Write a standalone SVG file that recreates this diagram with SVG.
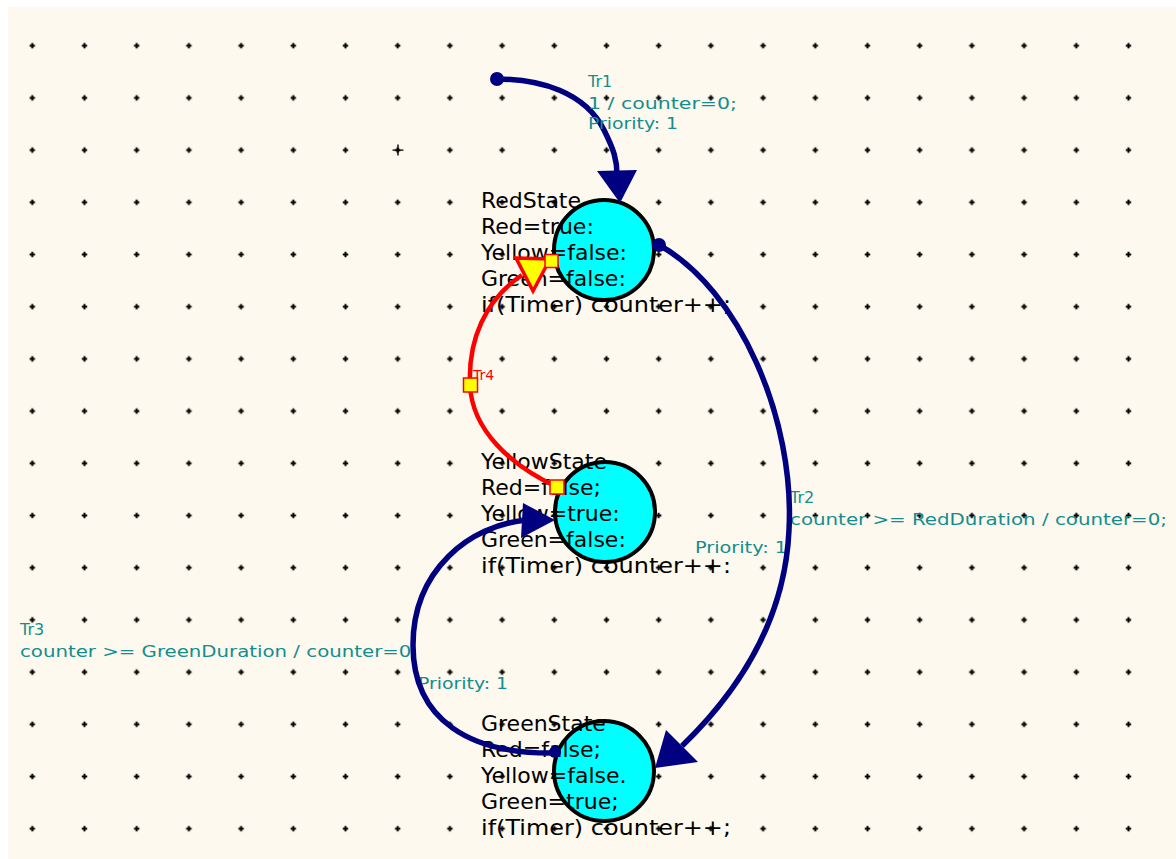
<svg xmlns="http://www.w3.org/2000/svg" width="1176" height="859" viewBox="0 0 1176 859">
<style>
.st{font-family:"DejaVu Sans",sans-serif;font-size:22px;fill:#000}
.lb{font-family:"DejaVu Sans",sans-serif;font-size:16px;fill:#138d8d}
.node{fill:#00ffff;stroke:#000;stroke-width:4}
.nv{fill:none;stroke:#000080;stroke-width:5.5}
.rd{fill:none;stroke:#ff0000;stroke-width:4.5}
.ah{fill:#000080;stroke:none}
.sq{fill:#ffff00;stroke:#ff0000;stroke-width:1.5}
</style>
<defs>
<pattern id="grid" x="6.2" y="19.6" width="52.2" height="52.2" patternUnits="userSpaceOnUse">
<path d="M23.4,26.1h5.4M26.1,23.4v5.4" stroke="#000" stroke-width="2"/>
</pattern>
</defs>
<rect x="0" y="0" width="1176" height="859" fill="#ffffff"/>
<rect x="8" y="7" width="1168" height="852" fill="#fdf9ee"/>
<rect x="8" y="7" width="1168" height="852" fill="url(#grid)"/>
<path d="M392.5,150.1h11M398,144.6v11" stroke="#000" stroke-width="1.4"/>

<g id="RedState">
<circle class="node" cx="604" cy="250" r="50"/>
<text class="st" x="481" y="208">RedState</text>
<text class="st" x="481" y="234">Red=true:</text>
<text class="st" x="481" y="260">Yellow=false:</text>
<text class="st" x="481" y="286">Green=false:</text>
<text class="st" x="481" y="312" textLength="250" lengthAdjust="spacingAndGlyphs">if(Timer) counter++;</text>
</g>
<g id="YellowState">
<circle class="node" cx="605" cy="512" r="50"/>
<text class="st" x="481" y="469">YellowState</text>
<text class="st" x="481" y="495">Red=false;</text>
<text class="st" x="481" y="521">Yellow=true:</text>
<text class="st" x="481" y="547">Green=false:</text>
<text class="st" x="481" y="573" textLength="250" lengthAdjust="spacingAndGlyphs">if(Timer) counter++:</text>
</g>
<g id="GreenState">
<circle class="node" cx="604" cy="771" r="50"/>
<text class="st" x="481" y="731">GreenState</text>
<text class="st" x="481" y="757">Red=false;</text>
<text class="st" x="481" y="783">Yellow=false.</text>
<text class="st" x="481" y="809">Green=true;</text>
<text class="st" x="481" y="835" textLength="250" lengthAdjust="spacingAndGlyphs">if(Timer) counter++;</text>
</g>

<g id="connectors">
<g id="Tr1">
<circle cx="497" cy="79" r="7" fill="#000080"/>
<path class="nv" d="M497,79 C540,79 585,92 604,130 C614,150 617,160 617,175"/>
<polygon class="ah" points="597,171 637,170 620,203"/>
<text class="lb" x="588" y="87">Tr1</text>
<text class="lb" x="588" y="109" textLength="149" lengthAdjust="spacingAndGlyphs">1 / counter=0;</text>
<text class="lb" x="588" y="129" textLength="90" lengthAdjust="spacingAndGlyphs">Priority: 1</text>
</g>
<g id="Tr2">
<text class="lb" x="790" y="503">Tr2</text>
<text class="lb" x="790" y="525" textLength="377" lengthAdjust="spacingAndGlyphs">counter >= RedDuration / counter=0;</text>
<text class="lb" x="695" y="553" textLength="92" lengthAdjust="spacingAndGlyphs">Priority: 1</text>
<circle cx="659" cy="245" r="7" fill="#000080"/>
<path class="nv" d="M659,245 C740,290 795,420 789,530 C785,620 740,690 682,746"/>
<polygon class="ah" points="666,730 698,762 655,768"/>
</g>
<g id="Tr3">
<text class="lb" x="20" y="635">Tr3</text>
<text class="lb" x="20" y="657" textLength="398" lengthAdjust="spacingAndGlyphs">counter >= GreenDuration / counter=0;</text>
<text class="lb" x="418" y="689" textLength="90" lengthAdjust="spacingAndGlyphs">Priority: 1</text>
<circle cx="555" cy="752" r="6" fill="#000080"/>
<path class="nv" d="M557,753 C470,755 413,720 413,645 C413,570 470,525 527,520"/>
<polygon class="ah" points="523,503 555,520 521,538"/>
</g>
<g id="Tr4">
<path class="rd" d="M557,487 C510,465 472,430 470,385 C468,340 485,300 522,275"/>
<polygon points="516,258 550,259 533,291" fill="#ffff00" stroke="#ff0000" stroke-width="3.5" stroke-linejoin="miter"/>
<text x="473" y="380" font-family="DejaVu Sans, sans-serif" font-size="14" fill="#ff0000">Tr4</text>
<rect class="sq" x="545" y="254.5" width="13" height="13"/>
<rect class="sq" x="463.5" y="378" width="14" height="14"/>
<rect class="sq" x="550" y="480" width="14" height="14"/>
</g>
</g>
</svg>
